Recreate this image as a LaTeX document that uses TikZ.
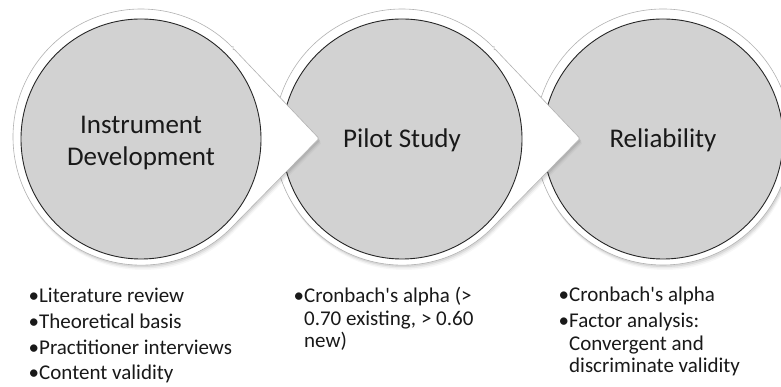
\documentclass[tikz,border=0pt]{standalone}
\usepackage{fontspec}
\setmainfont{Carlito}
\definecolor{cgray}{RGB}{210,210,210}
\definecolor{txt}{RGB}{25,25,25}
\begin{document}
\begin{tikzpicture}[x=1pt,y=1pt,
  arrowshape/.style n args={3}{insert path={({#1+92.07},{#2+88.92}) -- (#3,{#2-1.5}) -- ({#1+92.07},{#2-88.92}) arc[start angle=-44,end angle=-316,radius=128] -- cycle}},
  outerring/.style={fill=white, draw=black!30, line width=0.6pt, rounded corners=1.5pt},
  innerdisc/.style={fill=cgray, draw=black!85, line width=0.9pt},
  shadowfill/.style={fill=black, opacity=#1, draw=none},
  head/.style={font=\fontsize{27}{32}\selectfont, inner sep=0pt, align=center, text=txt},
  bul/.style={font=\fontsize{21}{25}\selectfont, anchor=base west, inner sep=0pt, text=txt}]
\useasboundingbox (0,0) rectangle (781,387);
\fill[white] (0,0) rectangle (781,387);

% ---- circle 3 (no arrow)
\foreach \dx/\dy/\o in {2/-5/0.03, 1.5/-3.5/0.05, 1/-2/0.07}
  \fill[shadowfill=\o] ({663+\dx},{250+\dy}) circle[radius=128];
\draw[outerring] (663,250) circle[radius=128];
\draw[innerdisc] (663,248) circle[radius=120];

% ---- circle 2 with arrow
\foreach \dx/\dy/\o in {2/-5/0.03, 1.5/-3.5/0.05, 1/-2/0.07}
  \fill[shadowfill=\o, arrowshape={402+\dx}{250+\dy}{580+\dx}];
\draw[outerring, arrowshape={402}{250}{580}];
\draw[innerdisc] (402,248) circle[radius=120];

% ---- circle 1 with arrow
\foreach \dx/\dy/\o in {2/-5/0.03, 1.5/-3.5/0.05, 1/-2/0.07}
  \fill[shadowfill=\o, arrowshape={141+\dx}{250+\dy}{319+\dx}];
\draw[outerring, arrowshape={141}{250}{319}];
\draw[innerdisc] (141,248) circle[radius=120];

% ---- headings
\node[head] (h1) at (141,244) {Instrument\\Development};
\node[head, anchor=base] (h2) at (402,239) {Pilot Study};
\node[head, anchor=base] (h3) at (663,239) {Reliability};

% ---- bullet lists
\node[bul] (a1) at (28.5,84.5) {•Literature review};
\node[bul] (a2) at (28.5,58.5) {•Theoretical basis};
\node[bul] (a3) at (28.5,32.5) {•Practitioner interviews};
\node[bul] (a4) at (28.5,7) {•Content validity};

\node[bul] (b1) at (293.5,84) {•Cronbach\textquotesingle s alpha (>};
\node[bul] (b2) at (293.5,61.5) {\phantom{•}0.70 existing, > 0.60};
\node[bul] (b3) at (293.5,39) {\phantom{•}new)};

\node[bul] (c1) at (558.5,85) {•Cronbach\textquotesingle s alpha};
\node[bul] (c2) at (558.5,59) {•Factor analysis:};
\node[bul] (c3) at (558.5,36.5) {\phantom{•}Convergent and};
\node[bul] (c4) at (558.5,14) {\phantom{•}discriminate validity};
\end{tikzpicture}
\end{document}
